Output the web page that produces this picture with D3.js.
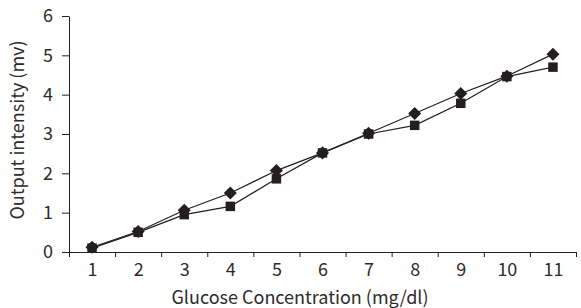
<!doctype html>
<html>
<head>
<script src="https://d3js.org/d3.v7.min.js"></script>
<style>
  body { margin: 0; background: #fff; }
  text { font-family: "Noto Sans CJK JP", "Noto Sans", sans-serif; fill: #2e2b2c; }
</style>
</head>
<body>
<div id="chart"></div>
<script>
const concentrations = [1, 2, 3, 4, 5, 6, 7, 8, 9, 10, 11];
const diamondSeries = [0.12, 0.52, 1.06, 1.50, 2.07, 2.52, 3.02, 3.52, 4.03, 4.47, 5.03];
const squareSeries  = [0.10, 0.50, 0.95, 1.16, 1.86, 2.52, 3.00, 3.22, 3.78, 4.46, 4.70];
const yTicks = [0, 1, 2, 3, 4, 5, 6];

const width = 581, height = 308;
const plotLeft = 69, plotRight = 576, plotTop = 16, plotBottom = 252;
const ink = "#231f20", textInk = "#2e2b2c";
const fontName = "Noto Sans CJK JP";

const svg = d3.select("#chart").append("svg")
    .attr("width", width)
    .attr("height", height);

const x = d3.scaleLinear().domain([0.5, 11.5]).range([plotLeft, plotRight]);
const y = d3.scaleLinear().domain([0, 6]).range([plotBottom, plotTop]);

// x axis: ticks at category boundaries, labels at centres
const xAxis = svg.append("g")
    .attr("transform", "translate(0," + plotBottom + ")")
    .call(d3.axisBottom(x).tickValues(d3.range(0.5, 12, 1)).tickFormat("").tickSize(5).tickSizeOuter(0));
xAxis.selectAll("line, path").attr("stroke", ink);

const xLabels = svg.append("g")
    .attr("transform", "translate(0," + plotBottom + ")")
    .call(d3.axisBottom(x).tickValues(concentrations).tickSize(0).tickPadding(11));
xLabels.select(".domain").remove();
xLabels.selectAll("text").attr("font-size", 18).attr("font-family", fontName).attr("fill", textInk);

const yAxis = svg.append("g")
    .attr("transform", "translate(" + plotLeft + ",0)")
    .call(d3.axisLeft(y).tickValues(yTicks).tickFormat(d3.format("d")).tickSize(7).tickSizeOuter(0).tickPadding(9));
yAxis.selectAll("line, path").attr("stroke", ink);
yAxis.selectAll("text").attr("font-size", 18).attr("font-family", fontName).attr("fill", textInk);

function drawSeries(values, symbol, size, angle) {
    const pts = values.map(function (v, i) { return [concentrations[i], v]; });
    svg.append("path")
        .datum(pts)
        .attr("fill", "none")
        .attr("stroke", ink)
        .attr("stroke-width", 1.2)
        .attr("d", d3.line().x(function (d) { return x(d[0]); }).y(function (d) { return y(d[1]); }));
    svg.append("g").selectAll("path")
        .data(pts)
        .enter().append("path")
        .attr("transform", function (d) {
            return "translate(" + x(d[0]) + "," + y(d[1]) + ") rotate(" + angle + ")";
        })
        .attr("d", d3.symbol().type(symbol).size(size))
        .attr("fill", ink);
}

drawSeries(squareSeries, d3.symbolSquare, 90, 0);
drawSeries(diamondSeries, d3.symbolSquare, 85, 45);

svg.append("text")
    .attr("x", 300)
    .attr("y", 304)
    .attr("text-anchor", "middle")
    .attr("font-size", 18)
    .text("Glucose Concentration (mg/dl)");

svg.append("text")
    .attr("transform", "translate(24,130) rotate(-90)")
    .attr("text-anchor", "middle")
    .attr("font-size", 18)
    .text("Output intensity (mv)");
</script>
</body>
</html>
